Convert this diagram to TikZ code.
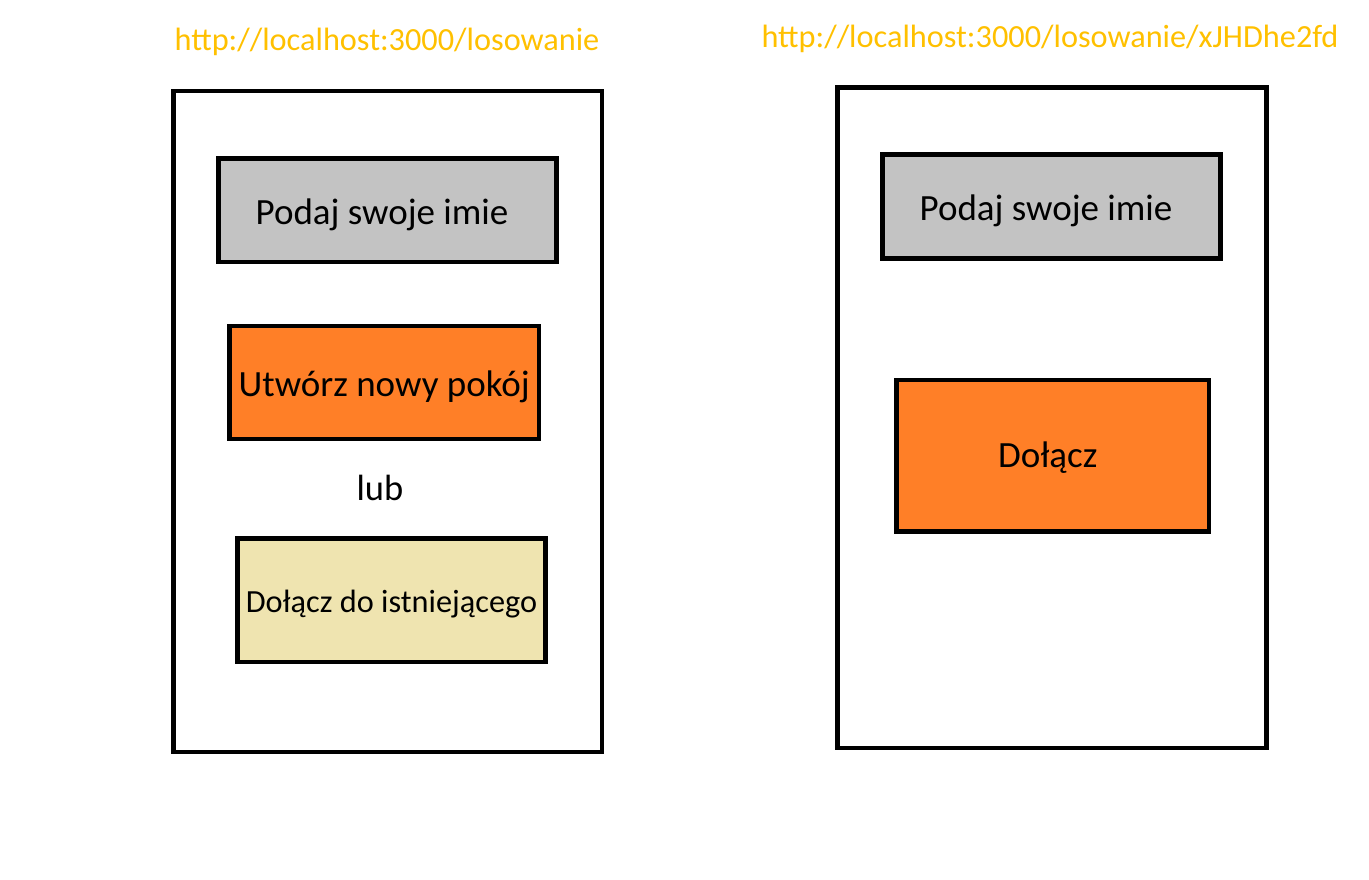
\documentclass[tikz,border=0pt]{standalone}
\usepackage{fontspec}
\setmainfont{Carlito}
\definecolor{fieldgray}{HTML}{C3C3C3}
\definecolor{btnorange}{HTML}{FF7F27}
\definecolor{btntan}{HTML}{EFE4B0}
\definecolor{urlgold}{HTML}{FFC000}

\begin{document}
\begin{tikzpicture}[x=1pt,y=-1pt]
	\useasboundingbox (0,0) rectangle (1369,879);
	\begin{scope}[every node/.style={draw,line width=4.5pt,inner sep=0pt,text depth=0pt,font=\fontsize{37}{44}\selectfont}]
	\node[minimum width=428.5pt,minimum height=661pt] (L) at (387.75,421.5) {};
	\node[minimum width=429pt,minimum height=660.5pt] (R) at (1052,417.75) {};
	\node[fill=fieldgray,minimum width=338pt,minimum height=103.5pt,text height=29pt] (Lname) at (387.5,210.25) {\hspace*{-11pt}Podaj swoje imie};
	\node[fill=btnorange,minimum width=309.5pt,minimum height=113pt,text height=28.5pt] (Lnew) at (384.25,382.5) {Utwórz nowy pokój};
	\node[fill=btntan,minimum width=308pt,minimum height=123.5pt,text height=25pt,font=\fontsize{32.3}{38}\selectfont] (Ljoin) at (391.5,600.25) {Dołącz do istniejącego};
	\node[fill=fieldgray,minimum width=338pt,minimum height=104pt,text height=28.5pt] (Rname) at (1051.5,206.5) {\hspace*{-11pt}Podaj swoje imie};
	\node[fill=btnorange,minimum width=312.5pt,minimum height=151.5pt,text height=22.5pt] (Rjoin) at (1052.75,455.75) {\hspace*{-10pt}Dołącz};
	\end{scope}
	\node[font=\fontsize{36.5}{44}\selectfont] (or) at (380,488) {lub};
	\node[urlgold,font=\fontsize{32.3}{38}\selectfont] (Lurl) at (387,42) {http://localhost:3000/losowanie};
	\node[urlgold,font=\fontsize{32.3}{38}\selectfont] (Rurl) at (1050,39) {http://localhost:3000/losowanie/xJHDhe2fd};
\end{tikzpicture}
\end{document}
